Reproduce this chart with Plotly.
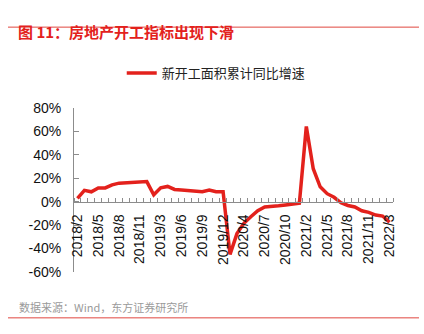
import plotly.graph_objects as go

# ---- data ----
dates = [
    "2018/2", "2018/3", "2018/4", "2018/5", "2018/6", "2018/7", "2018/8", "2018/9", "2018/10", "2018/11", "2018/12",
    "2019/2", "2019/3", "2019/4", "2019/5", "2019/6", "2019/7", "2019/8", "2019/9", "2019/10", "2019/11", "2019/12",
    "2020/2", "2020/3", "2020/4", "2020/5", "2020/6", "2020/7", "2020/8", "2020/9", "2020/10", "2020/11", "2020/12",
    "2021/2", "2021/3", "2021/4", "2021/5", "2021/6", "2021/7", "2021/8", "2021/9", "2021/10", "2021/11", "2021/12",
    "2022/2", "2022/3",
]
new_start_yoy = [
    2.9, 9.7, 8.5, 11.8, 11.8, 14.4, 15.9, 16.4, 16.3, 16.8, 17.2,
    6.0, 11.9, 13.1, 10.5, 10.1, 9.5, 8.9, 8.6, 10.0, 8.6, 8.5,
    -44.9, -27.2, -18.4, -12.8, -7.6, -4.5, -3.6, -3.4, -2.7, -2.0, -1.2,
    64.3, 28.2, 12.8, 6.9, 3.8, -0.9, -3.2, -4.5, -7.7, -9.1, -11.4,
    -12.2, -17.5,
]
series_name = "新开工面积累计同比增速"
title_text = "图 11：房地产开工指标出现下滑"
source_text = "数据来源：Wind，东方证券研究所"
y_ticks = [-60, -40, -20, 0, 20, 40, 60, 80]

# ---- layout constants ----
W, H = 424, 334
ML, MR, MT, MB = 74, 31, 104, 62
PW, PH = W - ML - MR, H - MT - MB
RED = "#E3211C"
AXIS = "#8C8C8C"
NUM_FONT = "Liberation Sans, Arial, sans-serif"
CJK_FONT = "Noto Sans CJK SC, sans-serif"

idx = list(range(len(dates)))

fig = go.Figure()
fig.add_trace(go.Scatter(
    x=idx, y=new_start_yoy, mode="lines", name=series_name,
    line=dict(color=RED, width=3.5),
))

def px_x(p):
    return (p - ML) / PW

def px_y(p):
    return (H - MB - p) / PH

ymin, ymax = y_ticks[0], y_ticks[-1]
fig.update_layout(
    width=W, height=H,
    margin=dict(l=ML, r=MR, t=MT, b=MB, pad=0),
    paper_bgcolor="white", plot_bgcolor="white",
    showlegend=True,
    legend=dict(
        orientation="h", xref="container", yref="container",
        x=0.51, xanchor="center", y=1 - 73 / H, yanchor="middle",
        font=dict(family=CJK_FONT, size=13, color="#222222"),
        itemwidth=30,
    ),
    xaxis=dict(
        range=[-0.5, len(dates) - 0.5],
        tickmode="array", tickvals=idx[::3], ticktext=dates[::3],
        tickangle=-90, ticks="", ticklabelstandoff=6,
        tickfont=dict(family=NUM_FONT, size=14, color="#111111"),
        showline=True, linecolor=AXIS, linewidth=1,
        showgrid=False, zeroline=False,
        anchor="free", position=(0 - ymin) / (ymax - ymin),
        minor=dict(tickmode="array", tickvals=[i - 0.5 for i in range(len(dates) + 1)],
                   ticks="inside", ticklen=4, tickcolor=AXIS, tickwidth=1),
    ),
    yaxis=dict(
        range=[ymin, ymax], tickmode="array", tickvals=y_ticks,
        ticktext=[f"{v}%" for v in y_ticks],
        ticks="inside", ticklen=5, tickcolor=AXIS, ticklabelstandoff=9,
        tickfont=dict(family=NUM_FONT, size=14, color="#111111"),
        showline=True, linecolor=AXIS, linewidth=1,
        showgrid=False, zeroline=False,
    ),
    title=dict(
        text=title_text, xref="container", yref="container",
        x=18 / W, xanchor="left", y=1 - 33 / H, yanchor="middle",
        font=dict(family=CJK_FONT, size=15, color=RED, weight="bold"),
    ),
)

fig.add_annotation(
    text=source_text, xref="paper", yref="paper",
    x=px_x(17), xanchor="left", y=px_y(308), yanchor="middle",
    showarrow=False, font=dict(family=CJK_FONT, size=11, color="#9A9A9A"),
)
for yline in (21, 319):
    fig.add_shape(type="line", xref="paper", yref="paper",
                  x0=px_x(8), x1=px_x(419), y0=px_y(yline), y1=px_y(yline),
                  line=dict(color="#E0463F", width=1))

fig.write_html("out.html")
